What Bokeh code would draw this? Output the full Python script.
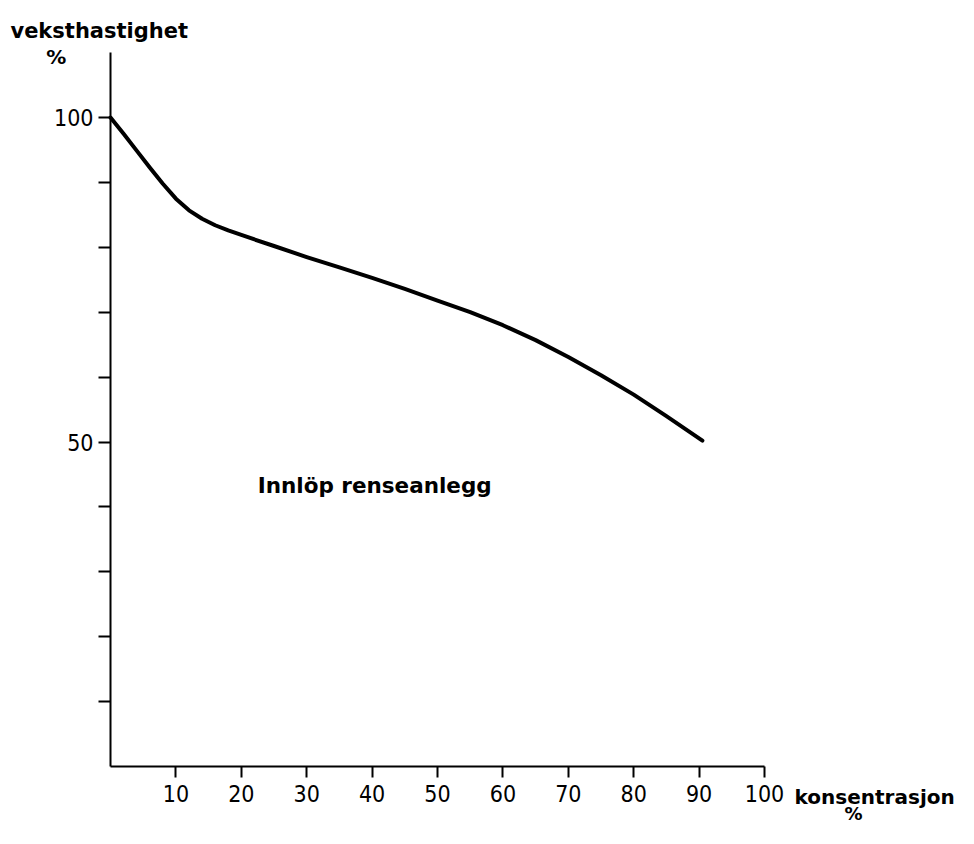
from bokeh.plotting import figure
from bokeh.models import Range1d, FixedTicker, Label
from bokeh.embed import file_html
from bokeh.resources import INLINE

# data
konsentrasjon = [0, 2, 4, 6, 8, 10, 12, 14, 16, 18, 20, 25, 30, 35, 40, 45, 50, 55, 60, 65, 70, 75, 80, 85, 90.5]
veksthastighet = [100, 97.5, 94.9, 92.3, 89.8, 87.5, 85.7, 84.4, 83.4, 82.6, 81.9, 80.2, 78.5, 76.9, 75.3, 73.6, 71.8, 70.0, 68.0, 65.7, 63.1, 60.3, 57.3, 54.0, 50.2]
x_ticks = [10, 20, 30, 40, 50, 60, 70, 80, 90, 100]
y_ticks = [10, 20, 30, 40, 50, 60, 70, 80, 90, 100]
y_labelled = [50, 100]

FONT = "DejaVu Sans"
NUMFONT = "DejaVu Sans Condensed, Liberation Sans Narrow, DejaVu Sans"

p = figure(width=958, height=828, output_backend="svg", toolbar_location=None,
           x_range=Range1d(-16.82, 129.66), y_range=Range1d(-9.55, 118.03),
           min_border=0, min_border_left=0, min_border_right=0,
           min_border_top=0, min_border_bottom=0)
p.outline_line_color = None
p.grid.visible = False
p.background_fill_color = "white"
p.border_fill_color = "white"

p.line(konsentrasjon, veksthastighet, line_width=4, line_color="black",
       line_join="round", line_cap="round")

xa = p.xaxis[0]
xa.fixed_location = 0
xa.ticker = FixedTicker(ticks=x_ticks)
xa.bounds = (0, 100)
xa.axis_line_width = 2
xa.major_tick_line_width = 2
xa.major_tick_out = 11
xa.major_tick_in = 0
xa.minor_tick_out = 0
xa.minor_tick_in = 0
xa.major_label_standoff = 7
xa.major_label_text_font = NUMFONT
xa.major_label_text_font_size = "23px"
xa.major_label_text_color = "black"

ya = p.yaxis[0]
ya.fixed_location = 0
ya.ticker = FixedTicker(ticks=y_ticks)
ya.bounds = (0, 110)
ya.axis_line_width = 2
ya.major_tick_line_width = 2
ya.major_tick_out = 12
ya.major_tick_in = 0
ya.minor_tick_out = 0
ya.minor_tick_in = 0
ya.major_label_standoff = 5
ya.major_label_text_font = NUMFONT
ya.major_label_text_font_size = "23px"
ya.major_label_text_color = "black"
ya.major_label_overrides = {t: ("" if t not in y_labelled else str(t)) for t in y_ticks}

def lab(x, y, text, size="22px", align="left"):
    p.add_layout(Label(x=x, y=y, text=text, text_font=FONT, text_font_size=size,
                       text_font_style="bold",
                       text_align=align, text_baseline="middle", text_color="black"))

lab(-15.3, 113.4, "veksthastighet", "21px")
lab(-8.3, 109.4, "%", "20px", "center")
lab(104.6, -4.7, "konsentrasjon", "20px")
lab(113.6, -7.2, "%", "18px", "center")
lab(22.5, 43.3, "Innlöp renseanlegg", "21.5px")

open("out.html", "w").write(file_html(p, INLINE))
